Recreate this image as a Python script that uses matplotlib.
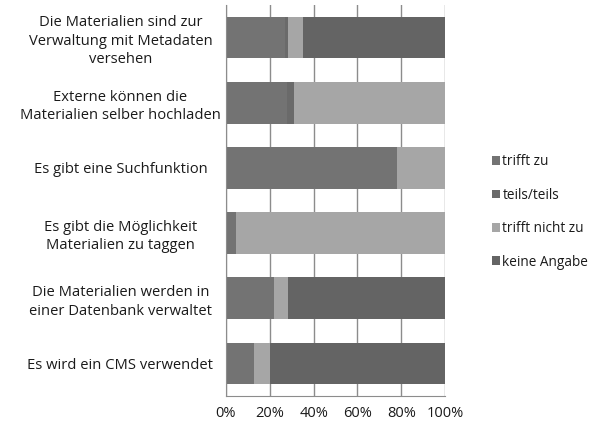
import numpy as np
import matplotlib.pyplot as plt
from matplotlib.ticker import PercentFormatter

categories = [
    "Die Materialien sind zur\nVerwaltung mit Metadaten\nversehen",
    "Externe können die\nMaterialien selber hochladen",
    "Es gibt eine Suchfunktion",
    "Es gibt die Möglichkeit\nMaterialien zu taggen",
    "Die Materialien werden in\neiner Datenbank verwaltet",
    "Es wird ein CMS verwendet",
]
series = ["trifft zu", "teils/teils", "trifft nicht zu", "keine Angabe"]
trifft_zu = [27, 28, 78, 4.5, 22, 13]
teils_teils = [1.5, 3, 0, 0, 0, 0]
trifft_nicht_zu = [6.5, 69, 22, 95.5, 6.5, 7]
keine_angabe = [65, 0, 0, 0, 71.5, 80]
colors = ["#737373", "#6a6a6a", "#a6a6a6", "#646464"]

plt.rcParams['font.family'] = ['Open Sans', 'DejaVu Sans']

fig = plt.figure(figsize=(6, 4.3), dpi=100)
ax = fig.add_axes([226 / 600, 1 - 396 / 430, 219 / 600, 391 / 430])

y = np.arange(len(categories))
left = np.zeros(len(categories))
for name, vals, c in zip(series, [trifft_zu, teils_teils, trifft_nicht_zu, keine_angabe], colors):
    vals = np.array(vals)
    ax.barh(y, vals, left=left, height=0.64, color=c, label=name, zorder=2)
    left += vals

ax.set_ylim(len(categories) - 0.5, -0.5)
ax.set_xlim(0, 100)
ax.set_xticks(np.arange(0, 101, 20))
ax.xaxis.set_major_formatter(PercentFormatter(decimals=0))
ax.set_yticks(y)
ax.set_yticklabels(categories, ha='center', fontsize=10.6, color='#1a1a1a', linespacing=1.3)
ax.tick_params(axis='y', length=0, pad=76)
ax.tick_params(axis='x', length=0, pad=7, labelsize=10.5, labelcolor='#1a1a1a')
ax.grid(axis='x', color='#8c8c8c', linewidth=1, zorder=0)
for s in ['top', 'right']:
    ax.spines[s].set_visible(False)
ax.spines['left'].set_color('#8c8c8c')
ax.spines['bottom'].set_color('#8c8c8c')

leg = fig.legend(loc='center left', bbox_to_anchor=(482 / 600, 1 - 212 / 430), frameon=False,
                 fontsize=9.8, handlelength=0.6, handleheight=0.6, handletextpad=0.2,
                 labelspacing=1.35, borderpad=0.2)
for t in leg.get_texts():
    t.set_color('#1a1a1a')

fig.savefig("out.png", dpi=100)
